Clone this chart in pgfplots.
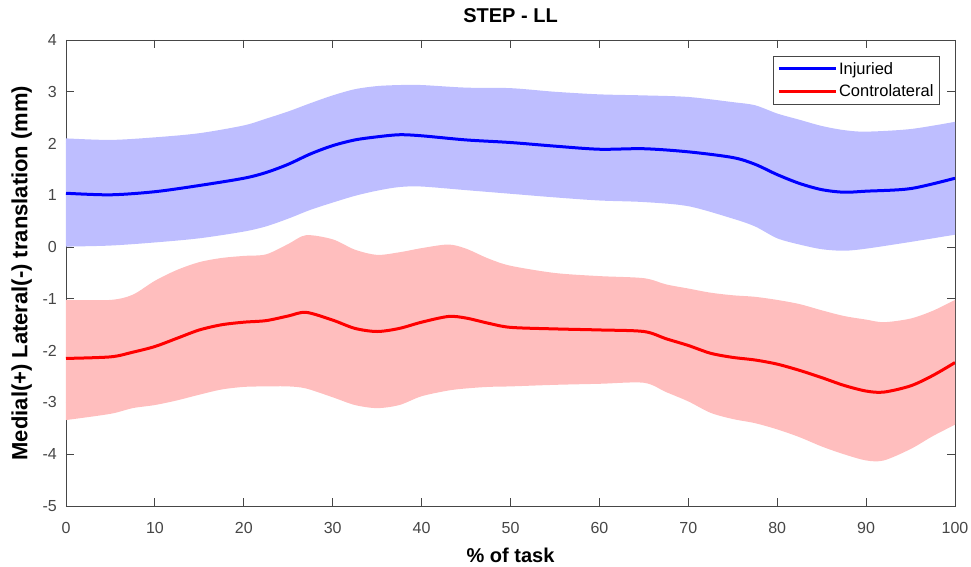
\documentclass[border=0pt]{standalone}
\usepackage{fontspec}
\setmainfont{Liberation Sans}
\usepackage{pgfplots}
\pgfplotsset{compat=1.18}
\usepgfplotslibrary{fillbetween}
\usepackage{pgfplotstable}

\definecolor{injline}{RGB}{0,0,255}
\definecolor{injband}{RGB}{190,190,255}
\definecolor{conline}{RGB}{255,0,0}
\definecolor{conband}{RGB}{255,190,190}
\definecolor{axgray}{RGB}{70,70,70}

% injured side: mean, lower and upper edge of the band
\pgfplotstableread{
x mean lo hi
0 1.04 0.01 2.10
5 1.01 0.03 2.07
10 1.07 0.09 2.12
15 1.19 0.17 2.20
20 1.33 0.30 2.35
22.5 1.44 0.40 2.48
25 1.60 0.55 2.62
27.5 1.80 0.72 2.78
30 1.96 0.86 2.93
32.5 2.07 0.99 3.05
35 2.13 1.09 3.11
37.5 2.17 1.16 3.13
40 2.15 1.17 3.13
45 2.07 1.10 3.08
50 2.02 1.03 3.07
55 1.95 0.96 3.00
60 1.89 0.90 2.95
65 1.90 0.87 2.93
70 1.84 0.79 2.90
75 1.73 0.55 2.80
77.5 1.60 0.40 2.74
80 1.40 0.17 2.58
82.5 1.23 0.05 2.46
85 1.11 -0.04 2.34
87.5 1.06 -0.07 2.26
90 1.08 -0.03 2.23
95 1.13 0.10 2.28
100 1.33 0.24 2.42
}\injuried

% contralateral side
\pgfplotstableread{
x mean lo hi
0 -2.15 -3.34 -1.02
5 -2.12 -3.22 -1.02
7.5 -2.03 -3.11 -0.92
10 -1.92 -3.05 -0.65
12.5 -1.76 -2.96 -0.44
15 -1.60 -2.85 -0.29
17.5 -1.50 -2.75 -0.21
20 -1.45 -2.70 -0.17
22.5 -1.42 -2.69 -0.14
25 -1.33 -2.69 0.06
27 -1.26 -2.73 0.23
30 -1.41 -2.90 0.15
32.5 -1.57 -3.05 -0.05
35 -1.63 -3.11 -0.15
37.5 -1.57 -3.05 -0.10
40 -1.45 -2.88 -0.02
43 -1.34 -2.77 0.05
45 -1.37 -2.73 -0.03
47.5 -1.47 -2.70 -0.22
50 -1.55 -2.69 -0.36
55 -1.58 -2.66 -0.50
60 -1.60 -2.64 -0.56
65 -1.63 -2.62 -0.60
67.5 -1.77 -2.80 -0.72
70 -1.90 -2.98 -0.80
72.5 -2.05 -3.20 -0.88
75 -2.13 -3.32 -0.93
77.5 -2.18 -3.40 -0.96
80 -2.26 -3.52 -1.02
82.5 -2.38 -3.67 -1.10
85 -2.52 -3.85 -1.22
87.5 -2.67 -4.00 -1.33
90 -2.78 -4.12 -1.40
92 -2.80 -4.12 -1.45
95 -2.68 -3.90 -1.38
97.5 -2.48 -3.65 -1.23
100 -2.23 -3.43 -1.02
}\contro

\begin{document}
\begin{tikzpicture}
\begin{axis}[
  scale only axis, width=889pt, height=466pt,
  xmin=0, xmax=100, ymin=-5, ymax=4,
  xtick={0,10,...,100}, ytick={-5,-4,...,4},
  tick align=inside, major tick length=8pt,
  axis line style={axgray, line width=0.9pt},
  tick style={axgray, line width=0.9pt},
  /pgf/number format/assume math mode=true,
  ticklabel style={font=\fontsize{16}{19}\selectfont, text=axgray},
  xticklabel style={inner sep=0pt, anchor=north, yshift=-16pt},
  yticklabel style={inner sep=0pt, anchor=east, xshift=-9pt},
  title={STEP - LL},
  title style={font=\bfseries\fontsize{20}{24}\selectfont, inner sep=0pt,
    anchor=base, at={(axis description cs:0.5,1.0236)}},
  xlabel={\% of task},
  xlabel style={font=\bfseries\fontsize{20}{24}\selectfont, inner sep=0pt,
    anchor=north, at={(axis description cs:0.5,-0.089)}},
  ylabel={Medial(+) Lateral(-) translation (mm)},
  ylabel style={font=\bfseries\fontsize{22}{26}\selectfont, inner sep=0pt,
    rotate=0, anchor=south, at={(axis description cs:-0.038,0.5)}},
  legend style={at={(axis description cs:0.983,0.966)}, anchor=north east,
    draw=axgray, line width=0.8pt, font=\fontsize{16.5}{19}\selectfont,
    inner xsep=4pt, inner ysep=4pt, row sep=5pt,
    cells={anchor=west}},
  legend image code/.code={\draw[#1] (0pt,0pt) -- (57pt,0pt);},
]
\addplot[name path=iu, draw=none, smooth, forget plot] table[x=x, y=hi] {\injuried};
\addplot[name path=il, draw=none, smooth, forget plot] table[x=x, y=lo] {\injuried};
\addplot[injband, forget plot] fill between[of=iu and il];
\addplot[name path=cu, draw=none, smooth, forget plot] table[x=x, y=hi] {\contro};
\addplot[name path=cl, draw=none, smooth, forget plot] table[x=x, y=lo] {\contro};
\addplot[conband, forget plot] fill between[of=cu and cl];

\addplot[injline, line width=3pt, smooth] table[x=x, y=mean] {\injuried};
\addlegendentry{Injuried}
\addplot[conline, line width=3pt, smooth] table[x=x, y=mean] {\contro};
\addlegendentry{Controlateral}
\end{axis}
\path (current axis.south west) ++(-66pt,-61pt) rectangle ++(971pt,567pt);
\end{tikzpicture}
\end{document}
